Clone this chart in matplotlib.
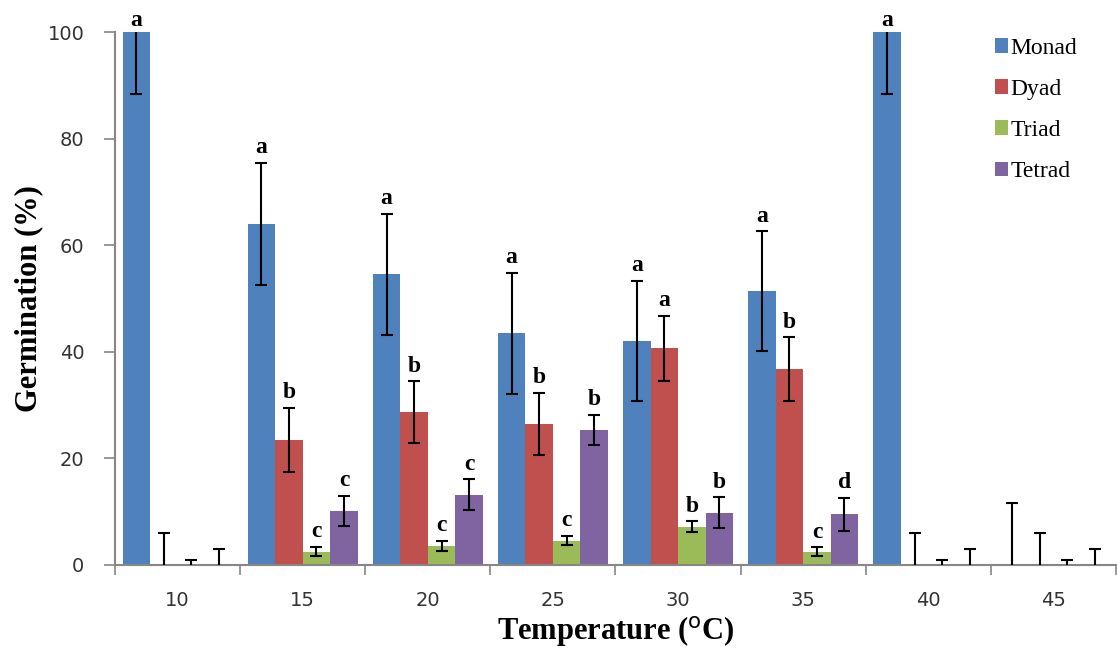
import matplotlib
matplotlib.use("Agg")
import matplotlib.pyplot as plt
from matplotlib.patches import Patch
import numpy as np

temperatures = ["10", "15", "20", "25", "30", "35", "40", "45"]
series = ["Monad", "Dyad", "Triad", "Tetrad"]
colors = ["#4F81BD", "#C0504D", "#9BBB59", "#8064A2"]

monad = [100, 64.0, 54.6, 43.5, 42.1, 51.4, 100, 0]
dyad = [0, 23.5, 28.7, 26.5, 40.7, 36.8, 0, 0]
triad = [0, 2.5, 3.6, 4.6, 7.2, 2.5, 0, 0]
tetrad = [0, 10.2, 13.2, 25.4, 9.8, 9.5, 0, 0]

monad_err = [11.5, 11.5, 11.4, 11.4, 11.3, 11.3, 11.5, 11.6]
dyad_err = [6.0, 6.0, 5.8, 5.8, 6.1, 6.0, 6.0, 6.0]
triad_err = [0.9, 0.9, 1.0, 0.9, 1.0, 0.8, 0.9, 0.9]
tetrad_err = [3.0, 2.8, 2.9, 2.8, 2.9, 3.1, 3.0, 3.0]

monad_letters = ["a", "a", "a", "a", "a", "a", "a", ""]
dyad_letters = ["", "b", "b", "b", "a", "b", "", ""]
triad_letters = ["", "c", "c", "c", "b", "c", "", ""]
tetrad_letters = ["", "c", "c", "b", "b", "d", "", ""]

values = [monad, dyad, triad, tetrad]
errors = [monad_err, dyad_err, triad_err, tetrad_err]
letters = [monad_letters, dyad_letters, triad_letters, tetrad_letters]

fig = plt.figure(figsize=(11.17, 6.58), dpi=100)
ax = fig.add_axes([0.10295, 0.14134, 0.89615, 0.80927])

x = np.arange(len(temperatures))
bw = 0.22
offsets = (np.arange(4) - 1.5) * bw
serif = "Liberation Serif"

for i in range(4):
    xs = x + offsets[i]
    ax.bar(xs, values[i], width=bw, color=colors[i], edgecolor="none", zorder=2)
    ax.errorbar(xs, values[i], yerr=errors[i], fmt="none", ecolor="black",
                elinewidth=1.5, capsize=4.5, capthick=1.5, zorder=3)
    for xi, v, e, lab in zip(xs, values[i], errors[i], letters[i]):
        if lab:
            top = min(v + e, 100)
            gap = 1.2 if v + e > 100 else 1.8
            ax.text(xi, top + gap, lab, ha="center", va="baseline",
                    fontsize=17, fontweight="bold", family=serif, clip_on=False)

ax.set_xlim(-0.5, len(temperatures) - 0.5)
ax.set_ylim(0, 100)
ax.set_yticks(np.arange(0, 101, 20))

ax.set_xticks(np.arange(len(temperatures) + 1) - 0.5)
ax.set_xticklabels([])
ax.set_xticks(x, minor=True)
ax.set_xticklabels(temperatures, minor=True)
ax.tick_params(axis="x", which="major", length=7, width=1.2, color="#868686", direction="out")
ax.tick_params(axis="x", which="minor", length=0, pad=19, labelsize=14, labelcolor="#333333")
ax.tick_params(axis="y", length=8, width=1.2, color="#868686", direction="out",
               pad=14, labelsize=14, labelcolor="#333333")

for s in ["top", "right"]:
    ax.spines[s].set_visible(False)
for s in ["left", "bottom"]:
    ax.spines[s].set_color("#868686")
    ax.spines[s].set_linewidth(1.5)

ax.set_ylabel("Germination (%)", fontsize=22, fontweight="bold", family=serif)
ax.yaxis.set_label_coords(-0.072, 0.5)
ax.set_xlabel("Temperature ($^{\\rm o}$C)", fontsize=22, fontweight="bold", family=serif)
ax.xaxis.set_label_coords(0.5, -0.092)
ax.xaxis.label.set_va("top")

handles = [Patch(facecolor=c, edgecolor="none") for c in colors]
ax.legend(handles, series, loc="upper left", bbox_to_anchor=(0.879, 0.99),
          frameon=False, handlelength=0.55, handleheight=0.55, handletextpad=0.1,
          labelspacing=0.85, borderpad=0, borderaxespad=0,
          prop={"family": serif, "size": 17})

fig.savefig("out.png", dpi=100)
